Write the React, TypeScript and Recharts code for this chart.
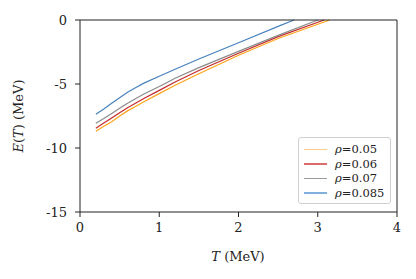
import { LineChart, Line, XAxis, YAxis, ReferenceLine } from "recharts";

// temperature grid (MeV) and energies E(T) (MeV) for each density
const tGrid = [0.2, 0.3, 0.4, 0.5, 0.6, 0.7, 0.8, 1.0, 1.2, 1.5, 2.0, 2.5];

const e005 = [-8.7, -8.3, -7.95, -7.5, -7.1, -6.75, -6.4, -5.75, -5.1, -4.2, -2.75, -1.45];
const e006 = [-8.45, -8.05, -7.65, -7.25, -6.85, -6.5, -6.15, -5.5, -4.85, -3.95, -2.6, -1.3];
const e007 = [-8.07, -7.7, -7.3, -6.9, -6.5, -6.15, -5.8, -5.2, -4.55, -3.72, -2.45, -1.2];
const e0085 = [-7.37, -6.95, -6.5, -6.08, -5.65, -5.3, -4.95, -4.4, -3.85, -3.05, -1.78, -0.5];

// temperature where each curve reaches E = 0
const tZero = [3.15, 3.08, 3.0, 2.7];

const labels = ["0.05", "0.06", "0.07", "0.085"];
const colors = ["#ffa31a", "#c32a2a", "#8c8c8c", "#4682bd"];
const legendColors = ["#fdd08a", "#dd6b6b", "#9a9a9a", "#82b0dc"];

const xTicks = [0, 1, 2, 3, 4];
const yTicks = [0, -5, -10, -15];

const allE = [e005, e006, e007, e0085];

const series = allE.map((vals, i) => {
  const pts = tGrid
    .filter((t) => t < tZero[i])
    .map((t, j) => ({ t, e: vals[j] }));
  pts.push({ t: tZero[i], e: 0 });
  return pts;
});

const font = "'DejaVu Serif', serif";
const textStyle = { fontFamily: font, fontSize: 13, color: "#222" };

function LegendBox() {
  return (
    <div
      style={{
        position: "absolute",
        left: 298,
        top: 137,
        border: "1px solid #d0d0d0",
        borderRadius: 3,
        background: "#fff",
        padding: "4px 6px 3px 5px",
        fontFamily: font,
        fontSize: 11.5,
        color: "#222",
      }}
    >
      {labels.map((l, i) => (
        <div key={l} style={{ display: "flex", alignItems: "center", height: 14.5 }}>
          <div
            style={{
              width: 23,
              height: 1.5,
              background: legendColors[i],
              marginRight: 8,
              flexShrink: 0,
            }}
          />
          <span>
            <i>ρ</i>={l}
          </span>
        </div>
      ))}
    </div>
  );
}

export default function App() {
  return (
    <div style={{ position: "absolute", left: 0, top: 0, width: 416, height: 279, background: "#fff" }}>
      <LineChart
        width={416}
        height={279}
        margin={{ top: 20, right: 19, left: 20, bottom: 0 }}
      >
        <XAxis
          dataKey="t"
          type="number"
          domain={[0, 4]}
          ticks={xTicks}
          allowDuplicatedCategory={false}
          height={67}
          tickSize={5}
          tickMargin={6}
          stroke="#222"
          tick={{ fill: "#222", fontSize: 13, fontFamily: font }}
        />
        <YAxis
          type="number"
          domain={[-15, 0]}
          ticks={yTicks}
          width={60}
          tickSize={5}
          tickMargin={8}
          stroke="#222"
          tick={{ fill: "#222", fontSize: 13, fontFamily: font }}
        />
        {series.map((d, i) => (
          <Line
            key={labels[i]}
            data={d}
            dataKey="e"
            name={labels[i]}
            stroke={colors[i]}
            strokeWidth={1.2}
            dot={false}
            type="linear"
            isAnimationActive={false}
          />
        ))}
        <ReferenceLine y={0} stroke="#222" strokeWidth={1} />
        <ReferenceLine x={4} stroke="#222" strokeWidth={1} />
      </LineChart>
      <div
        style={{
          ...textStyle,
          position: "absolute",
          left: 238,
          top: 256,
          transform: "translate(-50%, -50%)",
          whiteSpace: "nowrap",
        }}
      >
        <i>T</i> (MeV)
      </div>
      <div
        style={{
          ...textStyle,
          position: "absolute",
          left: 18,
          top: 116,
          transform: "translate(-50%, -50%) rotate(-90deg)",
          whiteSpace: "nowrap",
        }}
      >
        <i>E</i>(<i>T</i>) (MeV)
      </div>
      <LegendBox />
    </div>
  );
}
